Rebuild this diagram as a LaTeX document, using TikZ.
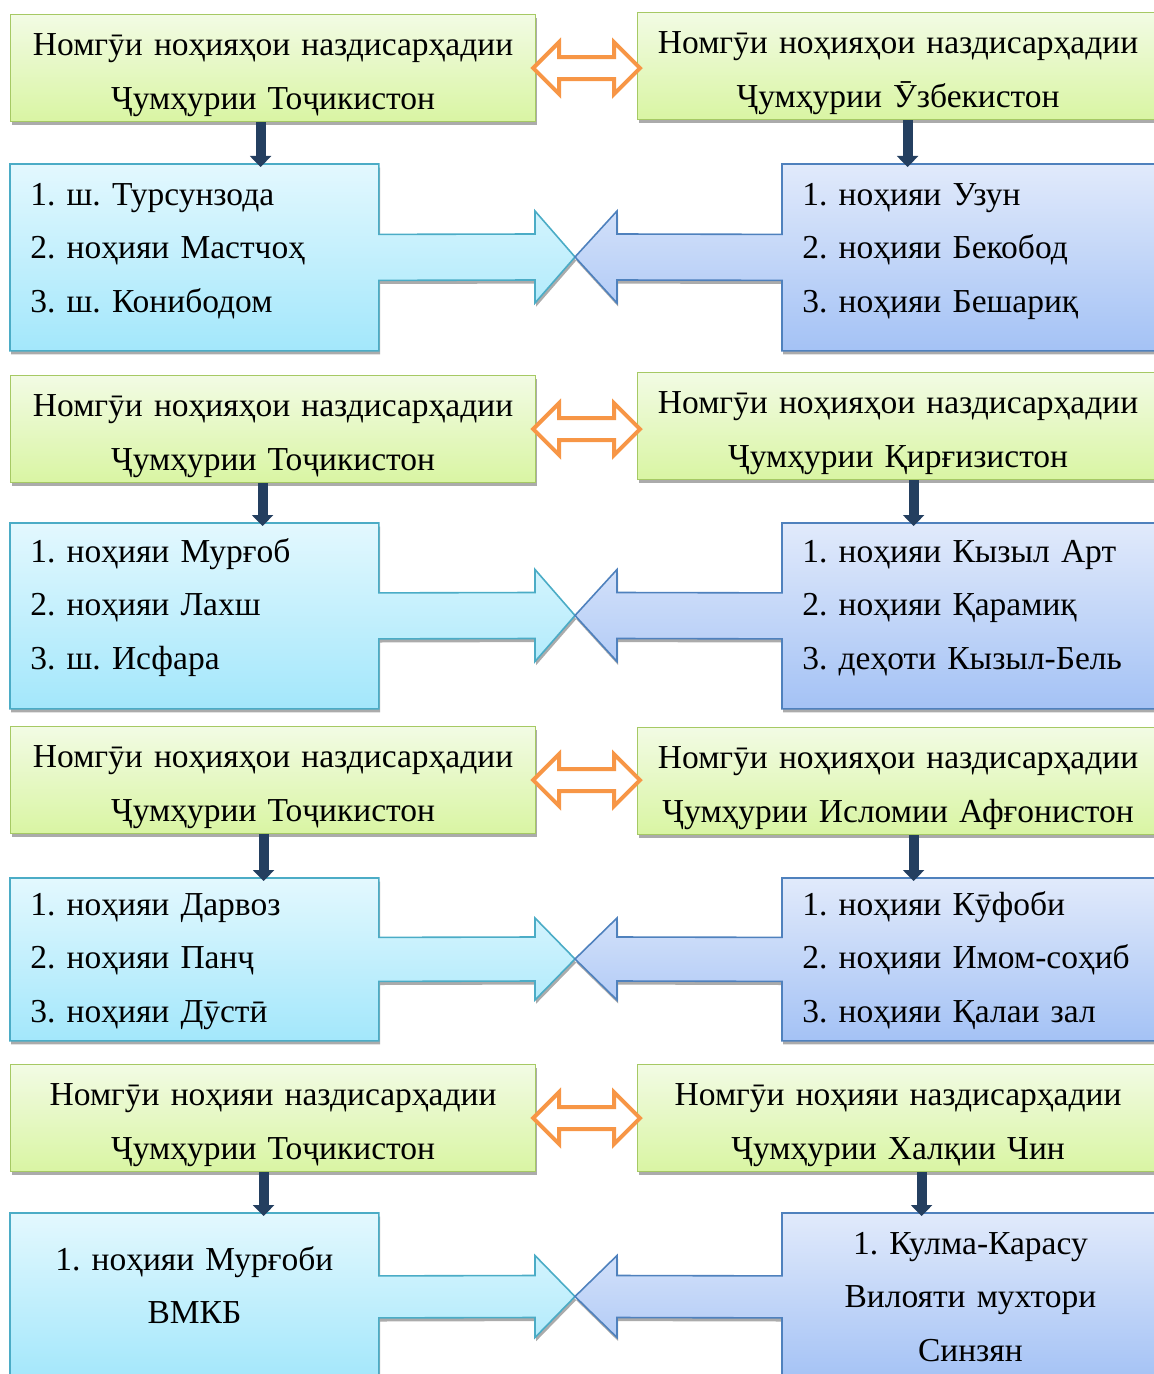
\documentclass[tikz,border=0pt]{standalone}
\usepackage{fontspec}
\setmainfont{Liberation Serif}
\frenchspacing
\usetikzlibrary{arrows.meta,calc,shadows,backgrounds}

\definecolor{grtop}{HTML}{F2FBE4}
\definecolor{grbot}{HTML}{D9F5A3}
\definecolor{grline}{HTML}{A6C964}
\definecolor{cytop}{HTML}{E3F8FE}
\definecolor{cybot}{HTML}{A3E7FB}
\definecolor{cyline}{HTML}{4BACC6}
\definecolor{bltop}{HTML}{E1EAFB}
\definecolor{blbot}{HTML}{A4C2F5}
\definecolor{blline}{HTML}{4F81BD}
\definecolor{orarr}{HTML}{F79646}
\definecolor{navy}{HTML}{243F60}

\tikzset{
  shad/.style={drop shadow={shadow xshift=0.6pt, shadow yshift=-1.8pt, fill=black!60, opacity=0.55}},
  country/.style={anchor=north west, inner sep=0pt, align=center, text height=20.5pt, text depth=33pt,
    top color=grtop, bottom color=grbot, draw=grline, line width=0.6pt, shad},
  lbox/.style={anchor=north west, inner xsep=10pt, inner ysep=0pt, text width=164pt, align=left},
  rbox/.style={anchor=north west, inner xsep=10pt, inner ysep=0pt, text width=168pt, align=left},
  lcall/.style={top color=cytop, bottom color=cybot, draw=cyline, line width=0.8pt, shad},
  rcall/.style={top color=bltop, bottom color=blbot, draw=blline, line width=0.8pt, shad},
  twoway/.style={draw=orarr, fill=white, line width=2pt, line join=miter},
  godown/.style={draw=navy, line width=5pt, shorten >=-1.5pt, -{Triangle[width=10.5pt,length=5.5pt]}}
}

\begin{document}
\begin{tikzpicture}[x=0.5pt, y=-0.5pt, font=\fontsize{16.75}{26.75}\selectfont]
  \useasboundingbox (0,0) rectangle (1154,1374);

  % row 1
  \node[country, text width=262.5pt] (gl1) at (10,14) {Номгӯи ноҳияҳои наздисарҳадии\\Ҷумҳурии Тоҷикистон};
  \node[country, text width=260.5pt] (gr1) at (637,12) {Номгӯи ноҳияҳои наздисарҳадии\\Ҷумҳурии Ӯзбекистон};
  \node[lbox, text height=20.5pt, text depth=72.5pt] (bl1) at (10,164) {1. ш. Турсунзода\\2. ноҳияи Мастчоҳ\\3. ш. Конибодом};
  \node[rbox, text height=20.5pt, text depth=72.5pt] (br1) at (782,164) {1. ноҳияи Узун\\2. ноҳияи Бекобод\\3. ноҳияи Бешариқ};
  \coordinate (m1) at (575,257);

  % row 2
  \node[country, text width=262.5pt] (gl2) at (10,375) {Номгӯи ноҳияҳои наздисарҳадии\\Ҷумҳурии Тоҷикистон};
  \node[country, text width=260.5pt] (gr2) at (637,372) {Номгӯи ноҳияҳои наздисарҳадии\\Ҷумҳурии Қирғизистон};
  \node[lbox, text height=19.5pt, text depth=73pt] (bl2) at (10,523) {1. ноҳияи Мурғоб\\2. ноҳияи Лахш\\3. ш. Исфара};
  \node[rbox, text height=19.5pt, text depth=73pt] (br2) at (782,523) {1. ноҳияи Кызыл Арт\\2. ноҳияи Қарамиқ\\3. деҳоти Кызыл-Бель};
  \coordinate (m2) at (575,615.5);

  % row 3
  \node[country, text width=262.5pt] (gl3) at (10,726) {Номгӯи ноҳияҳои наздисарҳадии\\Ҷумҳурии Тоҷикистон};
  \node[country, text width=260.5pt] (gr3) at (637,727) {Номгӯи ноҳияҳои наздисарҳадии\\Ҷумҳурии Исломии Афғонистон};
  \node[lbox, text height=18.5pt, text depth=62.5pt] (bl3) at (10,878) {1. ноҳияи Дарвоз\\2. ноҳияи Панҷ\\3. ноҳияи Дӯстӣ};
  \node[rbox, text height=18.5pt, text depth=62.5pt] (br3) at (782,878) {1. ноҳияи Кӯфоби\\2. ноҳияи Имом-соҳиб\\3. ноҳияи Қалаи зал};
  \coordinate (m3) at (575,959);

  % row 4
  \node[country, text width=262.5pt] (gl4) at (10,1064) {Номгӯи ноҳияи наздисарҳадии\\Ҷумҳурии Тоҷикистон};
  \node[country, text width=260.5pt] (gr4) at (637,1064) {Номгӯи ноҳияи наздисарҳадии\\Ҷумҳурии Халқии Чин};
  \node[lbox, align=center, text height=28.5pt, text depth=55pt] (bl4) at (10,1213) {1. ноҳияи Мурғоби\\ВМКБ};
  \node[rbox, align=center, text height=20.5pt, text depth=63pt] (br4) at (782,1213) {1. Кулма-Карасу\\Вилояти мухтори\\Синзян};
  \coordinate (m4) at (575,1296.5);

  % blue boxes with their arrows
  \begin{scope}[on background layer]
    \foreach \i/\s/\h in {1/23/46, 2/23/46, 3/22/41, 4/21/41} {
      \draw[lcall] (bl\i.south west) -- (bl\i.north west) -- (bl\i.north east)
        -- ($(bl\i.east)+(0,-\s)$) -- ($(m\i)+(-40,-\s)$) -- ($(m\i)+(-40,-\h)$) -- (m\i)
        -- ($(m\i)+(-40,\h)$) -- ($(m\i)+(-40,\s)$) -- ($(bl\i.east)+(0,\s)$) -- (bl\i.south east) -- cycle;
      \draw[rcall] (br\i.south east) -- (br\i.north east) -- (br\i.north west)
        -- ($(br\i.west)+(0,-\s)$) -- ($(m\i)+(42,-\s)$) -- ($(m\i)+(42,-\h)$) -- (m\i)
        -- ($(m\i)+(42,\h)$) -- ($(m\i)+(42,\s)$) -- ($(br\i.west)+(0,\s)$) -- (br\i.south west) -- cycle;
    }
  \end{scope}

  % orange double arrows
  \foreach \i in {1,...,4} {
    \draw[twoway] ($(gl\i.east)+(-3,0)$) -- ++(26,-26) -- ++(0,15) -- ($(gr\i.west |- gl\i.east)+(-23,-11)$)
      -- ++(0,-15) -- ($(gr\i.west |- gl\i.east)+(3,0)$) -- ++(-26,26) -- ++(0,-15)
      -- ($(gl\i.east)+(23,11)$) -- ++(0,15) -- cycle;
  }

  % down arrows
  \draw[godown] ([xshift=-6.25pt]gl1.south) -- ([xshift=-6.25pt]gl1.south |- bl1.north);
  \draw[godown] ([xshift=4.75pt]gr1.south) -- ([xshift=4.75pt]gr1.south |- br1.north);
  \draw[godown] ([xshift=-5.25pt]gl2.south) -- ([xshift=-5.25pt]gl2.south |- bl2.north);
  \draw[godown] ([xshift=7.75pt]gr2.south) -- ([xshift=7.75pt]gr2.south |- br2.north);
  \draw[godown] ([xshift=-4.75pt]gl3.south) -- ([xshift=-4.75pt]gl3.south |- bl3.north);
  \draw[godown] ([xshift=7.75pt]gr3.south) -- ([xshift=7.75pt]gr3.south |- br3.north);
  \draw[godown] ([xshift=-4.75pt]gl4.south) -- ([xshift=-4.75pt]gl4.south |- bl4.north);
  \draw[godown] ([xshift=11.75pt]gr4.south) -- ([xshift=11.75pt]gr4.south |- br4.north);
\end{tikzpicture}
\end{document}
